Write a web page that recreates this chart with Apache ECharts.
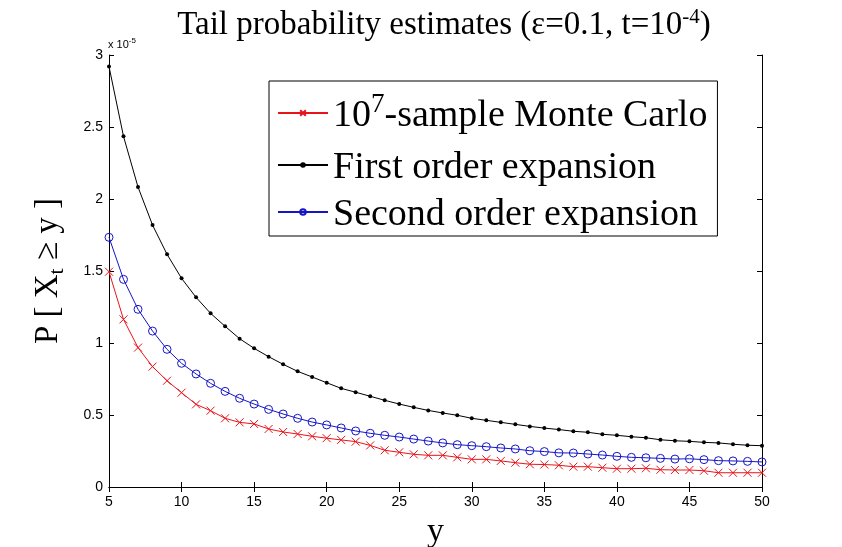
<!DOCTYPE html>
<html>
<head>
<meta charset="utf-8">
<script src="https://cdn.jsdelivr.net/npm/echarts@6/dist/echarts.min.js"></script>
<style>
  html, body { margin: 0; padding: 0; background: #fff; }
  #chart { width: 842px; height: 547px; }
</style>
</head>
<body>
<div id="chart"></div>
<script>
// y values 5..50, probabilities in units of 1e-5
const yValues = [5, 6, 7, 8, 9, 10, 11, 12, 13, 14, 15, 16, 17, 18, 19, 20, 21, 22, 23, 24, 25, 26, 27,
  28, 29, 30, 31, 32, 33, 34, 35, 36, 37, 38, 39, 40, 41, 42, 43, 44, 45, 46, 47, 48, 49, 50];

const monteCarlo = [1.495, 1.164, 0.968, 0.836, 0.738, 0.655, 0.574, 0.530, 0.477, 0.449, 0.438, 0.403,
  0.382, 0.368, 0.352, 0.339, 0.327, 0.315, 0.289, 0.255, 0.241, 0.227, 0.220, 0.220, 0.206, 0.192,
  0.192, 0.181, 0.169, 0.158, 0.156, 0.151, 0.141, 0.141, 0.134, 0.127, 0.127, 0.130, 0.120, 0.118,
  0.118, 0.113, 0.099, 0.099, 0.099, 0.099];

const firstOrder = [2.92, 2.435, 2.083, 1.819, 1.616, 1.449, 1.317, 1.206, 1.116, 1.030, 0.963, 0.905,
  0.852, 0.803, 0.764, 0.724, 0.685, 0.658, 0.630, 0.602, 0.576, 0.553, 0.532, 0.514, 0.498, 0.477,
  0.463, 0.449, 0.435, 0.421, 0.409, 0.399, 0.387, 0.380, 0.366, 0.359, 0.349, 0.342, 0.328, 0.321,
  0.317, 0.310, 0.306, 0.297, 0.290, 0.287];

const secondOrder = [1.734, 1.442, 1.234, 1.083, 0.956, 0.859, 0.785, 0.720, 0.664, 0.616, 0.576, 0.539,
  0.507, 0.477, 0.451, 0.431, 0.410, 0.389, 0.373, 0.359, 0.347, 0.333, 0.319, 0.306, 0.294, 0.287,
  0.280, 0.271, 0.264, 0.252, 0.246, 0.237, 0.236, 0.229, 0.222, 0.213, 0.206, 0.203, 0.199, 0.194,
  0.196, 0.190, 0.183, 0.181, 0.178, 0.174];

const seriesNames = ["10^7-sample Monte Carlo", "First order expansion", "Second order expansion"];

const pairs = arr => yValues.map((y, i) => [y, arr[i]]);

const serif = "'Liberation Serif', 'Times New Roman', serif";
const sans = "'Liberation Sans', Arial, sans-serif";

const chart = echarts.init(document.getElementById("chart"), null, { renderer: "canvas" });

const tickStyle = { inside: true, length: 5, lineStyle: { color: "#000" } };

// legend label: main text bottom aligned, exponent pinned to the top of the line
const legendLabel = name => {
  const parts = name.split("^7");
  if (parts.length === 1) return "{b|" + name + "}";
  return "{b|" + parts[0] + "}{sup|7}{b|" + parts[1] + "}";
};

const option = {
  backgroundColor: "#fff",
  animation: false,
  title: {
    text: "Tail probability estimates (ε=0.1, t=10{sup|-4})",
    left: 439,
    textAlign: "center",
    top: 2,
    textStyle: {
      fontFamily: serif,
      fontSize: 33,
      fontWeight: "normal",
      color: "#000",
      rich: {
        sup: { fontFamily: serif, fontSize: 21, verticalAlign: "top", padding: [0, 0, 16, 0], color: "#000" }
      }
    }
  },
  grid: { left: 109, right: 80, top: 55, bottom: 60, outerBoundsMode: "none" },
  legend: {
    orient: "vertical",
    left: 269,
    top: 81,
    padding: [10, 10, 2, 8],
    itemGap: 9,
    itemWidth: 50,
    itemHeight: 7,
    borderColor: "#000",
    borderWidth: 1,
    borderRadius: 0,
    backgroundColor: "#fff",
    data: seriesNames,
    formatter: legendLabel,
    textStyle: {
      fontFamily: serif,
      fontSize: 38,
      color: "#000",
      rich: {
        b: { fontFamily: serif, fontSize: 38, lineHeight: 44, verticalAlign: "bottom", color: "#000" },
        sup: { fontFamily: serif, fontSize: 27, lineHeight: 27, verticalAlign: "top", padding: [0, 0, 22, 0], color: "#000" }
      }
    }
  },
  graphic: [
    {
      type: "text",
      left: 108,
      top: 37,
      style: {
        text: "x 10{sup|-5}",
        font: "11px " + sans,
        fill: "#000",
        rich: { sup: { fontSize: 8, fontFamily: sans, padding: [0, 0, 7, 0], fill: "#000" } }
      }
    }
  ],
  xAxis: [
    {
      type: "value",
      min: 5, max: 50, interval: 5,
      name: "y",
      nameLocation: "middle",
      nameGap: 28,
      nameTextStyle: { fontFamily: serif, fontSize: 34, color: "#000" },
      axisLine: { lineStyle: { color: "#000" } },
      axisTick: tickStyle,
      axisLabel: { fontFamily: sans, fontSize: 14, color: "#000", margin: 8 },
      splitLine: { show: false }
    },
    {
      type: "value", position: "top",
      min: 5, max: 50, interval: 5,
      axisLine: { show: true, lineStyle: { color: "#000" } },
      axisTick: tickStyle,
      axisLabel: { show: false },
      splitLine: { show: false }
    }
  ],
  yAxis: [
    {
      type: "value",
      min: 0, max: 3, interval: 0.5,
      name: "P [ X{sub|t} ≥ y ]",
      nameLocation: "middle",
      nameGap: 41,
      nameRotate: 90,
      nameTextStyle: {
        fontFamily: serif, fontSize: 33, color: "#000",
        rich: { sub: { fontFamily: serif, fontSize: 22, color: "#000", padding: [18, 0, 0, 0] } }
      },
      axisLine: { show: true, lineStyle: { color: "#000" } },
      axisTick: tickStyle,
      axisLabel: { fontFamily: sans, fontSize: 14, color: "#000", margin: 6 },
      splitLine: { show: false }
    },
    {
      type: "value", position: "right",
      min: 0, max: 3, interval: 0.5,
      axisLine: { show: true, lineStyle: { color: "#000" } },
      axisTick: tickStyle,
      axisLabel: { show: false },
      splitLine: { show: false }
    }
  ],
  series: [
    {
      name: seriesNames[0],
      type: "line",
      data: pairs(monteCarlo),
      symbol: "path://M0,0L10,10M10,0L0,10",
      symbolSize: 8,
      showAllSymbol: true,
      lineStyle: { color: "#e8141c", width: 1 },
      itemStyle: { color: "transparent", borderColor: "#e8141c", borderWidth: 1 },
      z: 4
    },
    {
      name: seriesNames[1],
      type: "line",
      data: pairs(firstOrder),
      symbol: "circle",
      symbolSize: 4,
      showAllSymbol: true,
      lineStyle: { color: "#000", width: 1 },
      itemStyle: { color: "#000" },
      z: 3
    },
    {
      name: seriesNames[2],
      type: "line",
      data: pairs(secondOrder),
      symbol: "circle",
      symbolSize: 8,
      showAllSymbol: true,
      lineStyle: { color: "#1515c8", width: 1 },
      itemStyle: { color: "transparent", borderColor: "#1515c8", borderWidth: 1 },
      z: 2
    }
  ]
};

chart.setOption(option);
</script>
</body>
</html>
